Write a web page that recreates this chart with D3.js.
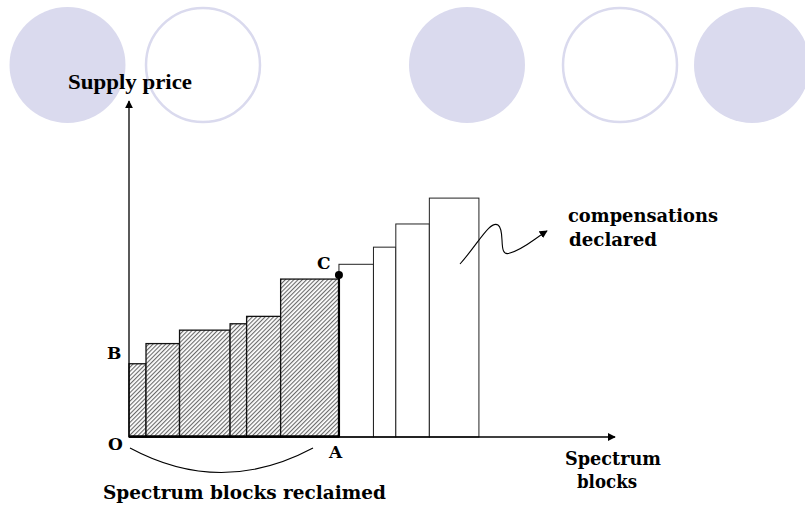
<!DOCTYPE html>
<html><head><meta charset="utf-8">
<script src="https://cdn.jsdelivr.net/npm/d3@7"></script>
<style>html,body{margin:0;padding:0;background:#fff;overflow:hidden}</style>
</head><body>
<svg id="c" width="805" height="506"></svg>
<script>
// Data: spectrum blocks (width in block units) and supply price per block
const reclaimedWidths = [3.5, 6.9, 10.4, 3.4, 7.0, 12.0];
const reclaimedPrices = [21.8, 27.8, 31.8, 33.7, 35.9, 47.0];
const declaredWidths  = [7.1, 4.6, 6.9, 10.2];
const declaredPrices  = [51.4, 56.5, 63.4, 71.1];
const decorCircles = [
  {cx: 67.5, filled: true}, {cx: 203, filled: false},
  {cx: 467, filled: true}, {cx: 620, filled: false}, {cx: 752, filled: true}
];

const svg = d3.select("#c");
const x = d3.scaleLinear().domain([0, 100]).range([129, 615]);
const y = d3.scaleLinear().domain([0, 100]).range([437, 101]);

// decorative circles
svg.selectAll("ellipse.deco").data(decorCircles).join("ellipse")
  .attr("cx", d => d.cx).attr("cy", 65).attr("rx", d => d.filled ? 58 : 57).attr("ry", d => d.filled ? 58 : 57)
  .attr("fill", d => d.filled ? "#dadaee" : "none")
  .attr("stroke", d => d.filled ? "none" : "#dadaee")
  .attr("stroke-width", 2.5);

const defs = svg.append("defs");
const pw = 3;
const pat = defs.append("pattern").attr("id", "hatch").attr("patternUnits", "userSpaceOnUse")
  .attr("width", pw).attr("height", pw).attr("patternTransform", "rotate(45)");
pat.append("rect").attr("width", pw).attr("height", pw).attr("fill", "#fff");
pat.append("line").attr("x1", 0.6).attr("y1", 0).attr("x2", 0.6).attr("y2", pw)
  .attr("stroke", "#5a5a5a").attr("stroke-width", 1.0);

const mk = defs.append("marker").attr("id", "arr").attr("viewBox", "0 0 10 10")
  .attr("refX", 9).attr("refY", 5).attr("markerWidth", 8).attr("markerHeight", 8)
  .attr("markerUnits", "userSpaceOnUse").attr("orient", "auto");
mk.append("path").attr("d", "M0,0 L10,5 L0,10 Z").attr("fill", "#000");

function blocks(widths, prices, start) {
  let acc = start;
  return widths.map((w, i) => { const b = {x0: acc, x1: acc + w, p: prices[i]}; acc += w; return b; });
}
const reclaimed = blocks(reclaimedWidths, reclaimedPrices, 0);
const reclaimedEnd = d3.sum(reclaimedWidths);
const declared = blocks(declaredWidths, declaredPrices, reclaimedEnd);

svg.append("g").selectAll("rect").data(declared).join("rect")
  .attr("x", d => x(d.x0)).attr("y", d => y(d.p))
  .attr("width", d => x(d.x1) - x(d.x0)).attr("height", d => y(0) - y(d.p))
  .attr("fill", "#fff").attr("stroke", "#222").attr("stroke-width", 1);

svg.append("g").selectAll("rect").data(reclaimed).join("rect")
  .attr("x", d => x(d.x0)).attr("y", d => y(d.p))
  .attr("width", d => x(d.x1) - x(d.x0)).attr("height", d => y(0) - y(d.p))
  .attr("fill", "url(#hatch)").attr("stroke", "#111").attr("stroke-width", 1.3);

// thick edge at A up to C
const last = reclaimed[reclaimed.length - 1];
svg.append("line").attr("x1", x(reclaimedEnd)).attr("x2", x(reclaimedEnd))
  .attr("y1", y(0)).attr("y2", y(last.p) - 4).attr("stroke", "#000").attr("stroke-width", 2.2);
svg.append("circle").attr("cx", x(reclaimedEnd)).attr("cy", y(last.p) - 4).attr("r", 4).attr("fill", "#000");

// axes
svg.append("line").attr("x1", x(0)).attr("y1", y(0)).attr("x2", x(0)).attr("y2", y(100))
  .attr("stroke", "#000").attr("stroke-width", 1.3).attr("marker-end", "url(#arr)");
svg.append("line").attr("x1", x(0)).attr("y1", y(0)).attr("x2", x(100)).attr("y2", y(0))
  .attr("stroke", "#000").attr("stroke-width", 1.3).attr("marker-end", "url(#arr)");
svg.append("line").attr("x1", x(0)).attr("y1", y(0) - 0.5).attr("x2", x(reclaimedEnd)).attr("y2", y(0) - 0.5)
  .attr("stroke", "#000").attr("stroke-width", 2.5);

// brace arc under reclaimed blocks
svg.append("path").attr("d", `M${x(0)+1},448 Q${(x(0)+313)/2},497 313,448`)
  .attr("fill", "none").attr("stroke", "#000").attr("stroke-width", 1.1);

// squiggle arrow
svg.append("path").attr("d", "M460,264 C478,244 490,220 498,225 C506,230 497,258 510,253 C524,249 534,239 547,231")
  .attr("fill", "none").attr("stroke", "#000").attr("stroke-width", 1.1).attr("marker-end", "url(#arr)");

const serif = "'DejaVu Serif', serif";
function txt(s, tx, ty, size, len, fam) {
  const t = svg.append("text").attr("x", tx).attr("y", ty).text(s)
    .attr("font-family", fam || serif).attr("font-weight", "bold")
    .attr("font-size", size).attr("fill", "#000");
  if (len) t.attr("textLength", len).attr("lengthAdjust", "spacingAndGlyphs");
}
txt("Supply price", 68, 89, 22, 124, "'Liberation Serif', serif");
txt("compensations", 568, 222, 18, 150);
txt("declared", 569, 246, 18, 88);
txt("C", 317, 269, 17);
txt("B", 107, 359, 17);
txt("O", 108, 450, 17);
txt("A", 329, 458, 17);
txt("Spectrum", 565, 465, 18, 96);
txt("blocks", 577, 488, 18, 60);
txt("Spectrum blocks reclaimed", 103, 499, 18, 283);
</script>
</body></html>
